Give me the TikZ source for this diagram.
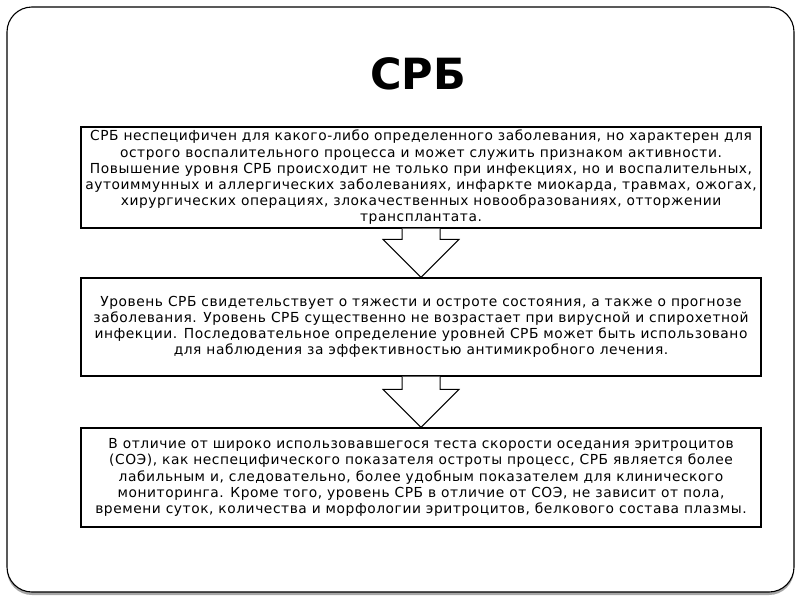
\documentclass[tikz,border=0pt]{standalone}
\usepackage{fontspec}
\setmainfont{DejaVu Sans}
\newfontfamily\boxfont[LetterSpace=4]{DejaVu Sans}
\usetikzlibrary{calc}
\tikzset{
  infobox/.style={draw, line width=1.2pt, minimum width=680pt, align=center, inner sep=0pt,
    font=\boxfont\fontsize{13.8}{16.2}\selectfont},
  blockarrow/.style={draw, fill=white, line width=1pt},
}

\begin{document}
\begin{tikzpicture}[x=1pt,y=-1pt]
\useasboundingbox (0,0) rectangle (800,600);
% Slide frame
\fill[gray!70, rounded corners=25pt] (7,10) rectangle (794,595);
\draw[fill=white, line width=1.1pt, rounded corners=25pt] (7,7) rectangle (794,592);
% Title
\node[font=\bfseries\fontsize{43}{50}\selectfont] (title) at (418,74) {СРБ};
% Text boxes
\node[infobox, minimum height=101pt] (b1) at (421,177.5) {СРБ неспецифичен для какого-либо определенного заболевания, но характерен для\\
острого воспалительного процесса и может служить признаком активности.\\
Повышение уровня СРБ происходит не только при инфекциях, но и воспалительных,\\
аутоиммунных и аллергических заболеваниях, инфаркте миокарда, травмах, ожогах,\\
хирургических операциях, злокачественных новообразованиях, отторжении\\
трансплантата.};
\node[infobox, minimum height=98pt] (b2) at (421,327) {Уровень СРБ свидетельствует о тяжести и остроте состояния, а также о прогнозе\\
заболевания. Уровень СРБ существенно не возрастает при вирусной и спирохетной\\
инфекции. Последовательное определение уровней СРБ может быть использовано\\
для наблюдения за эффективностью антимикробного лечения.};
\node[infobox, minimum height=99pt] (b3) at (421,477.5) {В отличие от широко использовавшегося теста скорости оседания эритроцитов\\
(СОЭ), как неспецифического показателя остроты процесс, СРБ является более\\
лабильным и, следовательно, более удобным показателем для клинического\\
мониторинга. Кроме того, уровень СРБ в отличие от СОЭ, не зависит от пола,\\
времени суток, количества и морфологии эритроцитов, белкового состава плазмы.};
% Block arrows
\draw[blockarrow] ($(b1.south)+(-19,0)$) |- ($(b2.north)+(-38,-38)$) -- (b2.north)
  -- ($(b2.north)+(38,-38)$) -| ($(b1.south)+(19,0)$);
\draw[blockarrow] ($(b2.south)+(-19,0)$) |- ($(b3.north)+(-38,-38)$) -- (b3.north)
  -- ($(b3.north)+(38,-38)$) -| ($(b2.south)+(19,0)$);
\end{tikzpicture}
\end{document}
